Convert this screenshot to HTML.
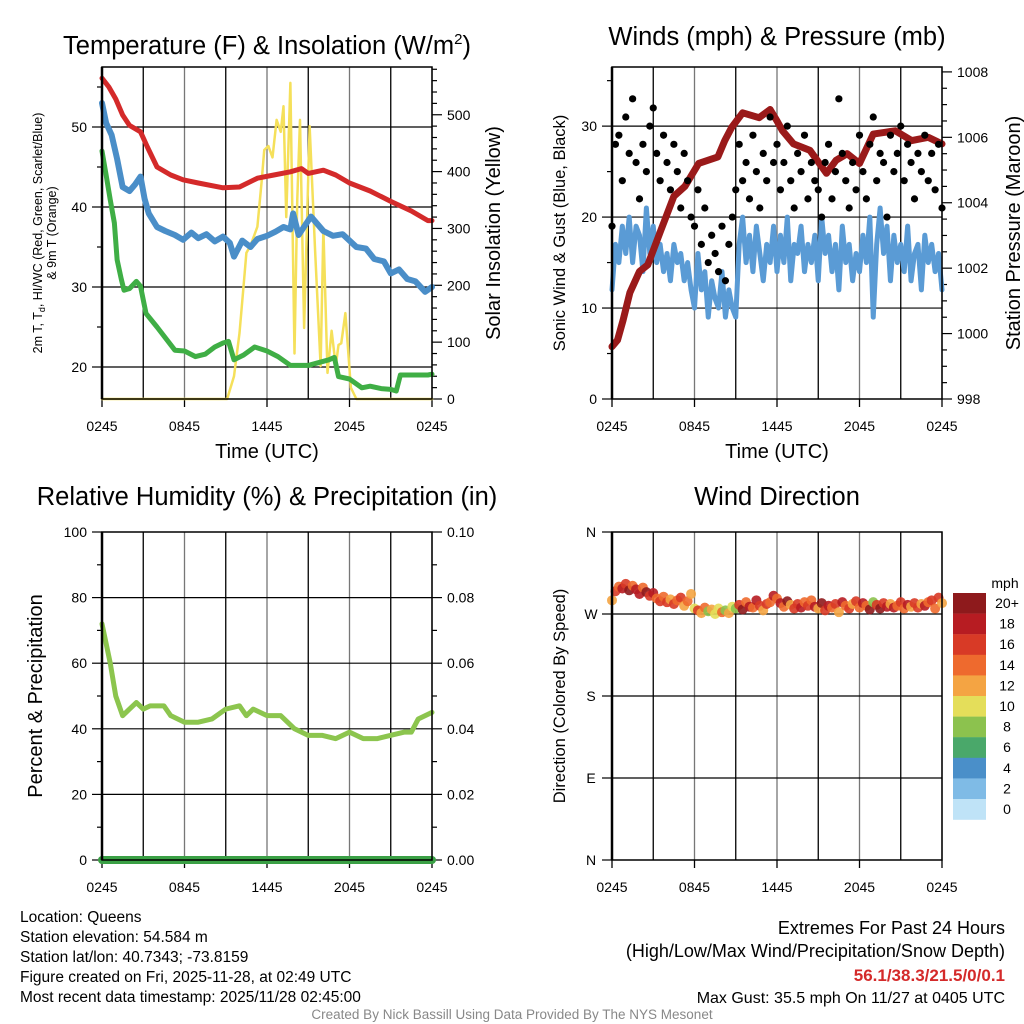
<!DOCTYPE html>
<html><head><meta charset="utf-8"><style>
html,body{margin:0;padding:0;background:#fff}
svg{display:block;font-family:"Liberation Sans",sans-serif}
</style></head><body>
<svg id="c" width="1024" height="1024" viewBox="0 0 1024 1024" xmlns="http://www.w3.org/2000/svg">
<g id="static"></g>
</svg>
<script>
// ---------- DATA ----------
const xTickLabels = ["0245","0845","1445","2045","0245"];
const redT = [0,0.5,1,1.5,2,2.8,3.3,4,5,5.9,7,8.8,10,11.3,12.5,13.7,14.5,15,16.1,17,18,19.5,21,22.5,23.7,24];
const redV = [56.1,55,53.5,51.5,50.2,49.4,47.5,45,44,43.4,43,42.4,42.5,43.6,44,44.4,44.8,44.2,44.6,44,43,42,40.7,39.5,38.3,38.3];
const blueT = [0,0.3,0.7,1.1,1.5,2,2.4,2.8,3.1,3.4,4,4.6,5.3,5.9,6.5,7,7.6,8.2,8.8,9.3,9.6,10.2,10.8,11.3,12,12.6,13.2,13.7,13.9,14.3,14.8,15.2,16.1,16.8,17.5,18.5,19.2,19.8,20.5,21,21.6,22.2,22.8,23.5,24];
const blueV = [53,50.5,49,46,42.5,42,42.8,43.8,41,39.2,37.5,37,36.5,35.9,36.8,36.1,36.6,35.7,36.3,35.5,33.8,35.8,35,36,36.4,36.9,37.5,37.2,39.2,36.5,37.8,38.8,37,36.4,36.6,35,34.8,33.5,33.2,31.7,32.2,31,30.7,29.4,30];
const greenT = [0,0.3,0.6,0.9,1.1,1.4,1.6,2,2.5,2.8,3.2,4,5.3,6,6.8,7.5,8.2,8.8,9.2,9.6,10.3,11.1,12,12.8,13.7,15,16.5,16.9,17.2,18,18.9,19.5,20.3,21,21.4,21.7,22.5,23.7,24];
const greenV = [47,44,40.9,38,33.4,31,29.6,29.8,30.7,30.1,26.7,25,22.1,22,21.3,21.6,22.5,23,23.2,20.9,21.5,22.5,22,21.3,20.2,20.2,20.9,21.2,18.8,18.5,17.4,17.6,17.3,17.2,17,19,19,19,19.1];
const solarT = [0,9.1,9.6,10,10.3,10.5,10.8,11.3,11.6,11.8,12.1,12.4,12.7,13,13.2,13.4,13.7,14,14.2,14.4,14.7,15.1,15.5,15.9,16.1,16.4,16.7,17,17.2,17.4,17.7,18.1,18.5,24];
const solarV = [0,0,40,116,200,257,270,303,380,438,445,425,491,470,515,320,556,80,350,491,125,480,260,58,300,46,120,58,95,98,151,20,0,0];
const pressT = [0,0.4,0.8,1.3,2,2.6,3.5,4.5,5.3,6.3,7,7.7,8.2,8.7,9.5,10.7,11.5,12,12.4,13.2,14.4,15.6,16.3,17.1,18,19,19.8,20.6,21.8,23,24];
const pressV = [999.6,999.8,1000.4,1001.25,1001.9,1002.1,1003.1,1004.2,1004.5,1005.2,1005.3,1005.4,1005.9,1006.3,1006.75,1006.6,1006.85,1006.5,1006.2,1005.8,1005.6,1004.9,1005.3,1005.5,1005.2,1006.1,1006.15,1006.2,1005.9,1006.0,1005.8];
const sonicWind = [12,17,15,19,16,20,15,19,18,14,21,16, 19,15,17,14,16,13,17,15,16,13,15,12, 10,16,12,14,9,13,11,10,14,9,12,10, 9,17,20,15,18,14,19,16,13,17,15,19, 14,18,15,20,13,17,16,19,14,17,15,18, 13,20,16,18,14,17,12,19,15,17,13,16, 14,18,15,20,9,17,21,16,19,13,18,15, 17,14,19,13,16,17,12,18,15,17,14,16,12];
const gustWind = [19,28,29,24,31,27,33,26,22,28,25,30, 32,27,24,29,26,23,28,25,21,27,24,20, 19,23,17,21,15,18,16,14,19,13,17,20, 23,28,24,26,22,29,25,21,27,24,31,26, 28,23,26,30,24,21,27,25,29,22,26,24, 23,20,26,28,22,25,33,27,24,21,26,23, 29,25,22,28,31,24,27,26,20,29,25,27, 30,24,28,26,22,27,25,29,24,27,23,28,21];
const windDir = [285,295,300,298,303,296,301,297,292,299,294,290, 293,287,284,289,283,286,281,285,288,279,284,292, 276,274,271,277,273,275,270,276,272,274,271,278, 276,280,275,283,278,277,285,279,274,281,283,290, 287,282,278,284,280,276,281,277,283,279,285,278, 276,282,274,279,277,281,272,283,279,276,281,284, 277,282,279,275,283,280,276,282,278,281,277,279, 283,276,280,278,282,277,281,279,283,285,276,288,282];
const rhT = [0,0.3,0.6,1,1.5,2,2.5,3,3.5,4.5,5,6,7,8,9,10,10.5,11,12,13,14,15,16,17,18,19,20,21,22,22.5,23,24];
const rhV = [72,66,60,50,44,46,48,46,47,47,44,42,42,43,46,47,44,46,44,44,40,38,38,37,39,37,37,38,39,39,43,45];
const precipT = [0,24];
const precipV = [0,0];
const cbLabels = ["20+","18","16","14","12","10","8","6","4","2","0"];
const cbColors = ["#8e1a1c","#b71c22","#d83a26","#ee6a2e","#f4a443","#e4de5a","#8cc24e","#4aa86a","#4a8fc9","#7fbbe6","#bfe3f7"];

// ---------- HELPERS ----------
const NS="http://www.w3.org/2000/svg";
const svg=document.getElementById('c');
function mk(tag,attrs,parent){const e=document.createElementNS(NS,tag);for(const k in attrs)e.setAttribute(k,attrs[k]);(parent||svg).appendChild(e);return e;}
function txt(s,x,y,size,anchor,parent,extra){const e=mk('text',Object.assign({x:x,y:y,'font-size':size,'text-anchor':anchor||'middle',fill:'#000'},extra||{}),parent);e.textContent=s;return e;}

function panel(px0,px1,py0,py1,name){
  const g=mk('g',{});
  
  
  const xs=h=>px0+(px1-px0)*h/24;
  for(let i=0;i<=8;i++){const x=xs(i*3);mk('line',{x1:x,y1:py0,x2:x,y2:py1,stroke:i%2?'#000':'#777','stroke-width':1.3},g);}
  xTickLabels.forEach((l,i)=>{const t=txt(l,xs(i*6),py1+32,14,'middle',g);
    
    
    mk('line',{x1:xs(i*6),y1:py1,x2:xs(i*6),y2:py1+8,stroke:'#000','stroke-width':1.3},g);});
  return {g,xs};
}
function yAxis(g,x,py0,py1,lo,hi,major,minor,side,labels,fmt){
  const ys=v=>py1-(v-lo)/(hi-lo)*(py1-py0);
  const d=side==='left'?-1:1;
  for(let v=Math.ceil(lo/minor)*minor;v<=hi+1e-9;v+=minor){
    const isM=Math.abs(v/major-Math.round(v/major))<1e-6;
    mk('line',{x1:x,y1:ys(v),x2:x+d*(isM?10:5),y2:ys(v),stroke:'#000','stroke-width':1.2},g);
    if(isM&&labels){const t=txt(fmt?fmt(v):String(Math.round(v)),x+d*15,ys(v)+5,14,side==='left'?'end':'start',g);
      
      }
  }
  return ys;
}
function hgrid(g,px0,px1,ys,vals){vals.forEach(v=>mk('line',{x1:px0,y1:ys(v),x2:px1,y2:ys(v),stroke:'#000','stroke-width':1.2},g));}
function line(g,xs,ys,T,V,color,w,name){
  const p=mk('polyline',{points:T.map((t,i)=>xs(t)+','+ys(V[i])).join(' '),fill:'none',stroke:color,'stroke-width':w,'stroke-linejoin':'round','stroke-linecap':'round'},g);
  
  
  return p;
}
function frame(g,px0,px1,py0,py1){mk('rect',{x:px0,y:py0,width:px1-px0,height:py1-py0,fill:'none',stroke:'#000','stroke-width':1.5},g);
  mk('line',{x1:px0,y1:py0,x2:px0,y2:py1,stroke:'#000','stroke-width':2.5},g);}
function speedColor(s){const idx=Math.min(10,Math.floor(s/2));return cbColors[10-idx];}

// ---------- PANEL 1 ----------
(function(){
  const P=panel(102,432,67,399,'temperature-panel');const g=P.g,xs=P.xs;
  const ysL=yAxis(g,102,67,399,16,57.5,10,5,'left',true);
  const ysR=yAxis(g,432,67,399,0,584,100,20,'right',true);
  hgrid(g,102,432,ysL,[20,30,40,50]);
  line(g,xs,ysR,solarT,solarV,'#f5e05a',2.5,'solar-insolation-line');
  line(g,xs,ysL,redT,redV,'#d42a2a',5,'temperature-line');
  line(g,xs,ysL,blueT,blueV,'#4a8ec8',6,'heat-index-windchill-line');
  line(g,xs,ysL,greenT,greenV,'#3fae45',5,'dewpoint-line');
  frame(g,102,432,67,399);
  const t=mk('text',{x:267,y:54,'font-size':25.5,'text-anchor':'middle'},g);
  
  t.innerHTML='Temperature (F) &amp; Insolation (W/m<tspan dy="-10" font-size="15">2</tspan><tspan dy="10">)</tspan>';
  const a=mk('text',{transform:'translate(42,233) rotate(-90)','font-size':12.5,'text-anchor':'middle'},g);
  
  a.innerHTML='2m T, T<tspan dy="3" font-size="9">d</tspan><tspan dy="-3">, HI/WC (Red, Green, Scarlet/Blue)</tspan>';
  const a2=txt('& 9m T (Orange)',0,0,12.5,'middle',g,{transform:'translate(56,233) rotate(-90)'});
  
  const r=txt('Solar Insolation (Yellow)',0,0,20,'middle',g,{transform:'translate(500,233) rotate(-90)'});
  
  const x=txt('Time (UTC)',267,458,20,'middle',g);
  
})();

// ---------- PANEL 2 ----------
(function(){
  const P=panel(612,942,67,399,'winds-panel');const g=P.g,xs=P.xs;
  const ysL=yAxis(g,612,67,399,0,36.5,10,5,'left',true);
  const ysR=yAxis(g,942,67,399,998,1008.15,2,0.5,'right',true);
  hgrid(g,612,942,ysL,[10,20,30]);
  const wT=sonicWind.map((_,i)=>i*24/(sonicWind.length-1));
  line(g,xs,ysL,wT,sonicWind,'#5a9bd5',5,'sonic-wind-line');
  line(g,xs,ysR,pressT,pressV,'#9a1a1a',7,'pressure-line');
  gustWind.forEach((v,i)=>{const c=mk('circle',{cx:xs(i*24/(gustWind.length-1)),cy:ysL(v),r:3.6,fill:'#000'},g);
    
    });
  frame(g,612,942,67,399);
  const t=txt('Winds (mph) & Pressure (mb)',777,45,25.5,'middle',g);
  
  const a=txt('Sonic Wind & Gust (Blue, Black)',0,0,16.5,'middle',g,{transform:'translate(565,233) rotate(-90)'});
  
  const r=txt('Station Pressure (Maroon)',0,0,20,'middle',g,{transform:'translate(1020,233) rotate(-90)'});
  
  const x=txt('Time (UTC)',777,458,20,'middle',g);
  
})();

// ---------- PANEL 3 ----------
(function(){
  const P=panel(102,432,532,860,'humidity-panel');const g=P.g,xs=P.xs;
  const ysL=yAxis(g,102,532,860,0,100,20,10,'left',true);
  const ysR=yAxis(g,432,532,860,0,0.1,0.02,0.01,'right',true,v=>v.toFixed(2));
  hgrid(g,102,432,ysL,[20,40,60,80]);
  line(g,xs,ysL,rhT,rhV,'#8cc54e',5,'humidity-line');
  line(g,xs,ysR,precipT,precipV,'#3aa045',8,'precipitation-line');
  frame(g,102,432,532,860);
  const t=txt('Relative Humidity (%) & Precipitation (in)',267,505,25.5,'middle',g);
  
  const a=txt('Percent & Precipitation',0,0,20,'middle',g,{transform:'translate(42,696) rotate(-90)'});
  
})();

// ---------- PANEL 4 ----------
(function(){
  const P=panel(612,942,532,860,'wind-direction-panel');const g=P.g,xs=P.xs;
  const ys=v=>860-v/360*328;
  ["N","E","S","W","N"].forEach((l,i)=>{const y=ys(i*90);
    mk('line',{x1:612,y1:y,x2:602,y2:y,stroke:'#000','stroke-width':1.2},g);
    const tl=txt(l,591,y+5,14,'middle',g);
    
    });
  [90,180,270].forEach(v=>mk('line',{x1:612,y1:ys(v),x2:942,y2:ys(v),stroke:'#000','stroke-width':1.2},g));
  windDir.forEach((d,i)=>{const c=mk('circle',{cx:xs(i*24/(windDir.length-1)),cy:ys(d),r:5,fill:speedColor(sonicWind[i]),'fill-opacity':0.9},g);
    
    });
  frame(g,612,942,532,860);
  const t=txt('Wind Direction',777,505,25.5,'middle',g);
  
  const a=txt('Direction (Colored By Speed)',0,0,16.5,'middle',g,{transform:'translate(565,696) rotate(-90)'});
  
  const cb=mk('g',{},g);
  
  
  const u=txt('mph',1005,588,14,'middle',cb);
  
  cbColors.forEach((c,i)=>{const r=mk('rect',{x:953,y:593+i*20.6,width:33,height:20.8,fill:c},cb);
    
    
    const l=txt(cbLabels[i],1007,593+i*20.6+15,14,'middle',cb);
    
    });
})();

// ---------- FOOTER TEXT ----------
(function(){
  const g=mk('g',{});
  
  
  ["Location: Queens","Station elevation: 54.584 m","Station lat/lon: 40.7343; -73.8159","Figure created on Fri, 2025-11-28, at 02:49 UTC","Most recent data timestamp: 2025/11/28 02:45:00"].forEach((s,i)=>{
    const t=txt(s,20,922+i*20,15.5,'start',g);
    
    });
  const g2=mk('g',{});
  
  
  let t=txt('Extremes For Past 24 Hours',1005,934,18,'end',g2);
  
  t=txt('(High/Low/Max Wind/Precipitation/Snow Depth)',1005,957,18,'end',g2);
  
  t=txt('56.1/38.3/21.5/0/0.1',1005,981,17,'end',g2,{fill:'#d42a2a','font-weight':'bold'});
  
  t=txt('Max Gust: 35.5 mph On 11/27 at 0405 UTC',1005,1003,16,'end',g2);
  
  t=txt('Created By Nick Bassill Using Data Provided By The NYS Mesonet',512,1019,13.5,'middle',svg,{fill:'#888'});
  
})();
</script>
</body></html>
